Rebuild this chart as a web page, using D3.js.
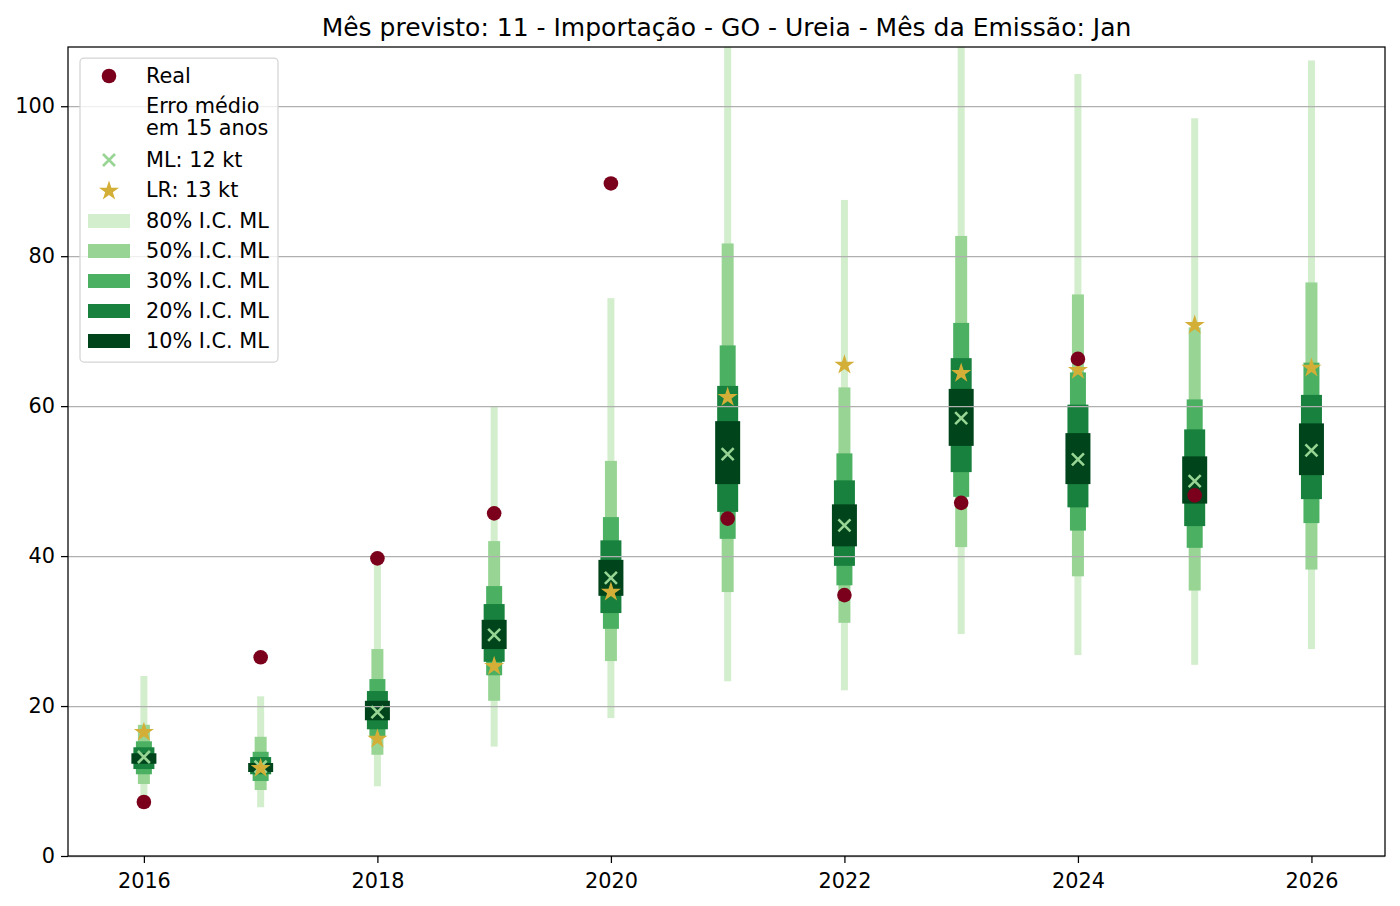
<!DOCTYPE html>
<html lang="pt">
<head>
  <meta charset="UTF-8">
  <title>Importação - GO - Ureia</title>
  <script src="https://d3js.org/d3.v7.min.js"></script>
  <style>
    body { margin: 0; background: #fff; }
    svg text { font-family: "DejaVu Sans", sans-serif; fill: #000; }
  </style>
</head>
<body>
  <svg id="chart" width="1400" height="906"></svg>
  <script>
    // dados
    const years = [2016, 2017, 2018, 2019, 2020, 2021, 2022, 2023, 2024, 2025, 2026];
    const real = [7.2, 26.5, 39.7, 45.7, 89.7, 45.0, 34.8, 47.1, 66.3, 48.1, null];
    const ml = [13.2, 11.9, 19.2, 29.5, 37.1, 53.6, 44.1, 58.4, 52.9, 50.0, 54.1];
    const lr = [16.5, 11.7, 15.6, 25.3, 35.2, 61.2, 65.5, 64.4, 64.8, 70.8, 65.1];

    const ic80Low = [8.0, 6.5, 9.3, 14.6, 18.4, 23.3, 22.1, 29.6, 26.8, 25.5, 27.6];
    const ic80High = [24.0, 21.3, 39.0, 59.9, 74.4, 118, 87.5, 120, 104.3, 98.4, 106.1];
    const ic50Low = [9.6, 8.8, 13.5, 20.7, 26.0, 35.2, 31.1, 41.2, 37.3, 35.4, 38.2];
    const ic50High = [17.5, 15.9, 27.6, 42.0, 52.7, 81.7, 62.5, 82.7, 74.9, 70.5, 76.5];
    const ic30Low = [10.9, 10.0, 15.9, 24.1, 30.3, 42.3, 36.1, 47.9, 43.4, 41.1, 44.4];
    const ic30High = [15.3, 13.9, 23.6, 36.0, 45.2, 68.1, 53.7, 71.1, 64.5, 60.9, 65.8];
    const ic20Low = [11.6, 10.9, 16.9, 25.9, 32.4, 45.9, 38.7, 51.2, 46.5, 44.0, 47.6];
    const ic20High = [14.5, 13.2, 22.0, 33.6, 42.1, 62.7, 50.1, 66.4, 60.2, 56.9, 61.5];
    const ic10Low = [12.3, 11.2, 18.1, 27.6, 34.7, 49.6, 41.3, 54.7, 49.6, 47.0, 50.8];
    const ic10High = [13.7, 12.4, 20.7, 31.5, 39.5, 58.0, 46.9, 62.3, 56.4, 53.3, 57.7];

    const xTicks = [2016, 2018, 2020, 2022, 2024, 2026];
    const yTicks = [0, 20, 40, 60, 80, 100];

    const titleText = 'Mês previsto: 11 - Importação - GO - Ureia - Mês da Emissão: Jan';

    // bandas: da mais larga para a mais estreita
    const bands = [
      { label: '80% I.C. ML', low: ic80Low, high: ic80High, color: '#d3eecd', w: 7 },
      { label: '50% I.C. ML', low: ic50Low, high: ic50High, color: '#98d594', w: 12 },
      { label: '30% I.C. ML', low: ic30Low, high: ic30High, color: '#4bb062', w: 16 },
      { label: '20% I.C. ML', low: ic20Low, high: ic20High, color: '#17813d', w: 21 },
      { label: '10% I.C. ML', low: ic10Low, high: ic10High, color: '#00441b', w: 25 }
    ];

    const fontSize = '20.8px';
    const crossPath = 'M-6,-6L6,6M-6,6L6,-6';

    const svg = d3.select('svg#chart');
    const width = +svg.attr('width');
    const height = +svg.attr('height');
    const margin = { top: 47, right: 15, bottom: 50, left: 68 };
    const chartWidth = width - margin.left - margin.right;
    const chartHeight = height - margin.top - margin.bottom;

    const xScale = d3.scaleLinear().domain([2015.35, 2026.63]).range([0, chartWidth]);
    const yScale = d3.scaleLinear().domain([0, 107.9]).range([chartHeight, 0]);

    svg.append('defs').append('clipPath').attr('id', 'clip')
      .append('rect').attr('width', chartWidth).attr('height', chartHeight);

    const chartArea = svg.append('g')
      .attr('transform', 'translate(' + margin.left + ',' + margin.top + ')');

    // barras dos intervalos
    const barArea = chartArea.append('g').attr('clip-path', 'url(#clip)');
    bands.forEach(b => {
      barArea.append('g').selectAll('rect')
        .data(years)
        .join('rect')
        .attr('x', (d, i) => xScale(d) - b.w / 2)
        .attr('width', b.w)
        .attr('y', (d, i) => yScale(b.high[i]))
        .attr('height', (d, i) => yScale(b.low[i]) - yScale(b.high[i]))
        .attr('fill', b.color);
    });

    // grid horizontal
    chartArea.append('g')
      .call(d3.axisLeft(yScale).tickValues(yTicks).tickSize(-chartWidth).tickFormat(''))
      .call(g => g.select('.domain').remove())
      .call(g => g.selectAll('line').attr('stroke', '#b0b0b0').attr('stroke-width', 1.25));

    // marcadores
    const markers = chartArea.append('g').attr('clip-path', 'url(#clip)');
    markers.append('g').selectAll('path')
      .data(years)
      .join('path')
      .attr('transform', (d, i) => 'translate(' + xScale(d) + ',' + yScale(ml[i]) + ')')
      .attr('d', crossPath)
      .attr('stroke', '#98d594')
      .attr('stroke-width', 2.6)
      .attr('fill', 'none');

    const star = d3.symbol().type(d3.symbolStar).size(125);
    markers.append('g').selectAll('path')
      .data(years)
      .join('path')
      .attr('transform', (d, i) => 'translate(' + xScale(d) + ',' + yScale(lr[i]) + ')')
      .attr('d', star)
      .attr('fill', '#d4af37');

    markers.append('g').selectAll('circle')
      .data(years.filter((d, i) => real[i] != null))
      .join('circle')
      .attr('cx', d => xScale(d))
      .attr('cy', d => yScale(real[years.indexOf(d)]))
      .attr('r', 7.3)
      .attr('fill', '#7b001c');

    // eixos
    const bottomAxis = d3.axisBottom(xScale).tickValues(xTicks).tickFormat(d3.format('d')).tickSize(7).tickPadding(10);
    const leftAxis = d3.axisLeft(yScale).tickValues(yTicks).tickSize(7).tickPadding(6);

    chartArea.append('g')
      .attr('transform', 'translate(0,' + chartHeight + ')')
      .call(bottomAxis)
      .call(g => g.select('.domain').remove())
      .call(g => g.selectAll('line').attr('stroke-width', 1.25))
      .call(g => g.selectAll('text').style('font-size', fontSize).style('font-family', 'DejaVu Sans'));

    chartArea.append('g')
      .call(leftAxis)
      .call(g => g.select('.domain').remove())
      .call(g => g.selectAll('line').attr('stroke-width', 1.25))
      .call(g => g.selectAll('text').style('font-size', fontSize).style('font-family', 'DejaVu Sans'));

    chartArea.append('rect')
      .attr('width', chartWidth).attr('height', chartHeight)
      .attr('fill', 'none').attr('stroke', '#000').attr('stroke-width', 1.25);

    // titulo
    svg.append('text')
      .attr('x', margin.left + chartWidth / 2)
      .attr('y', 27)
      .attr('dy', '0.35em')
      .attr('text-anchor', 'middle')
      .style('font-size', '25px')
      .text(titleText);

    // legenda
    const legend = svg.append('g').attr('transform', 'translate(80,58)');
    legend.append('rect')
      .attr('width', 198).attr('height', 304).attr('rx', 4)
      .attr('fill', 'rgba(255,255,255,0.8)').attr('stroke', '#d5d5d5').attr('stroke-width', 1.25);

    const lx = 29, tx = 66;
    const addLabel = (y, t) => legend.append('text').attr('x', tx).attr('y', y).attr('dy', '0.35em')
      .style('font-size', fontSize).text(t);

    legend.append('circle').attr('cx', lx).attr('cy', 18).attr('r', 7.3).attr('fill', '#7b001c');
    addLabel(18, 'Real');

    addLabel(48, 'Erro médio');
    addLabel(70, 'em 15 anos');

    legend.append('path').attr('transform', 'translate(' + lx + ',102)')
      .attr('d', crossPath)
      .attr('stroke', '#98d594').attr('stroke-width', 2.6);
    addLabel(102, 'ML: 12 kt');

    legend.append('path').attr('transform', 'translate(' + lx + ',133)')
      .attr('d', star).attr('fill', '#d4af37');
    addLabel(132, 'LR: 13 kt');

    bands.forEach((b, i) => {
      const cy = 163 + i * 30;
      legend.append('rect').attr('x', 8).attr('y', cy - 7).attr('width', 42).attr('height', 14).attr('fill', b.color);
      addLabel(cy, b.label);
    });
  </script>
</body>
</html>
